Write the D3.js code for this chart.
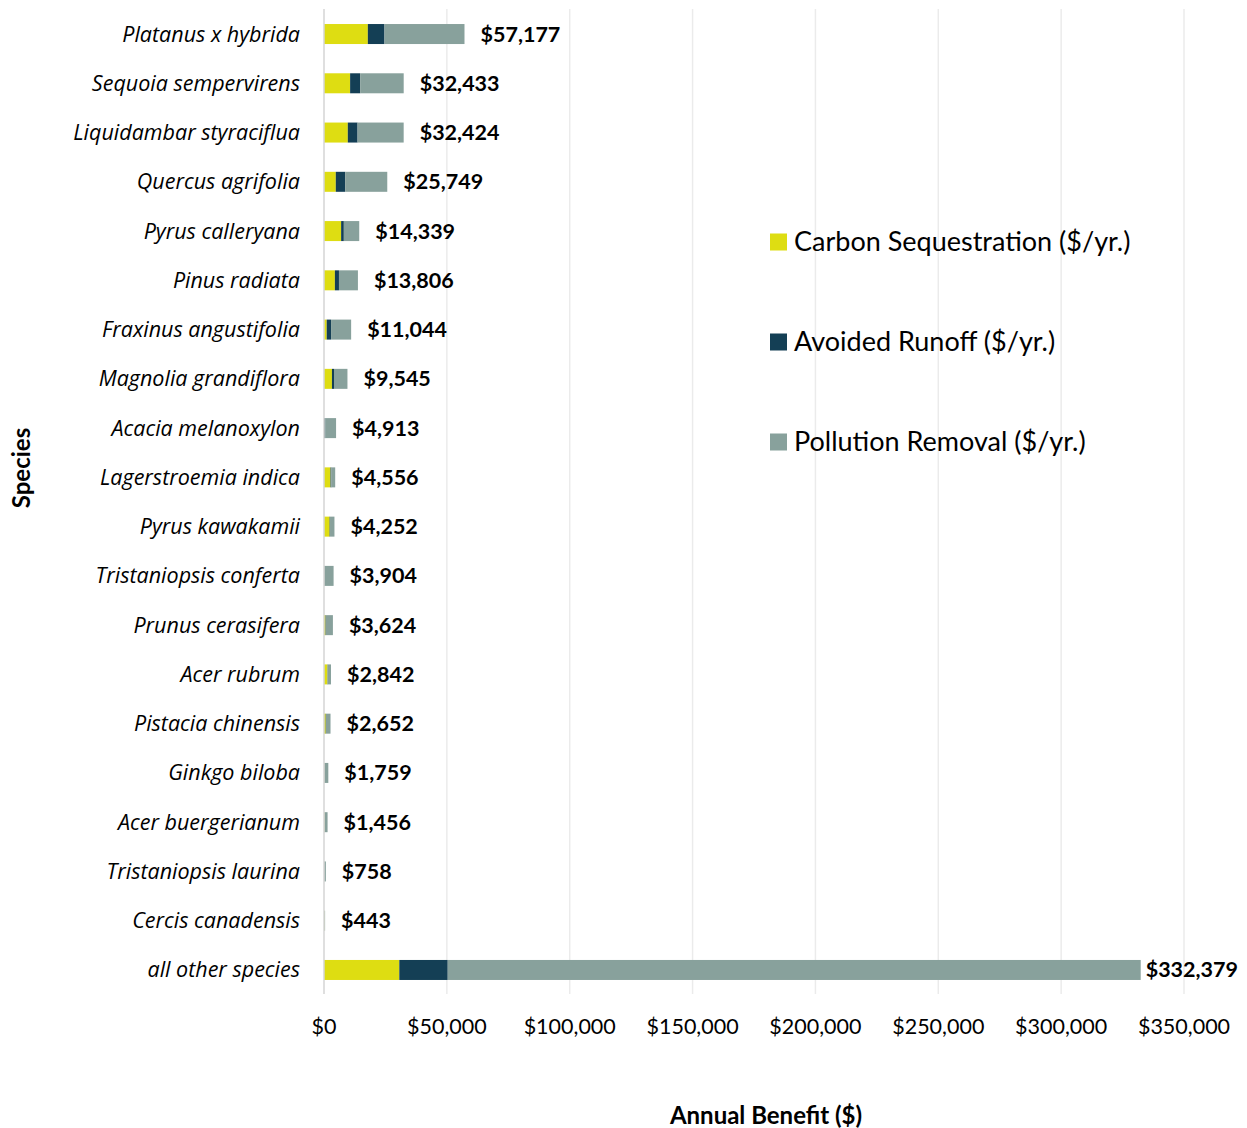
<!DOCTYPE html>
<html>
<head>
<meta charset="utf-8">
<script src="https://cdn.jsdelivr.net/npm/d3@7"></script>
<style>
  html, body { margin: 0; padding: 0; background: #ffffff; }
  svg { display: block; font-family: Lato, "Open Sans", sans-serif; }
</style>
</head>
<body>
<script>
const species = [
  "Platanus x hybrida", "Sequoia sempervirens", "Liquidambar styraciflua", "Quercus agrifolia",
  "Pyrus calleryana", "Pinus radiata", "Fraxinus angustifolia", "Magnolia grandiflora",
  "Acacia melanoxylon", "Lagerstroemia indica", "Pyrus kawakamii", "Tristaniopsis conferta",
  "Prunus cerasifera", "Acer rubrum", "Pistacia chinensis", "Ginkgo biloba",
  "Acer buergerianum", "Tristaniopsis laurina", "Cercis canadensis", "all other species"
];
const carbon =    [17842, 10630, 9690, 4800, 6970, 4430, 1100, 3230, 100, 2650, 2300, 50, 600, 1400, 700, 100, 150, 50, 150, 30650];
const runoff =    [6772, 4090, 3970, 3820, 1100, 1660, 1780, 840, 450, 350, 150, 150, 150, 100, 100, 50, 50, 20, 13, 19700];
const pollution = [32563, 17713, 18764, 17129, 6269, 7716, 8164, 5475, 4363, 1556, 1802, 3704, 2874, 1342, 1852, 1609, 1256, 688, 280, 282029];
const totals =    [57177, 32433, 32424, 25749, 14339, 13806, 11044, 9545, 4913, 4556, 4252, 3904, 3624, 2842, 2652, 1759, 1456, 758, 443, 332379];
const seriesNames = ["Carbon Sequestration ($/yr.)", "Avoided Runoff ($/yr.)", "Pollution Removal ($/yr.)"];
const seriesColors = ["#dedd12", "#143f55", "#88a19c"];
const xTicks = [0, 50000, 100000, 150000, 200000, 250000, 300000, 350000];

(function () {
const W = 1247, H = 1128;
const mLeft = 324, mRight = 1184, mTop = 9.4, mBottom = 994.6;

const svg = d3.select("body").append("svg").attr("width", W).attr("height", H);

const x = d3.scaleLinear().domain([0, 350000]).range([mLeft, mRight]);
const y = d3.scaleBand().domain(species).range([mTop, mBottom]).paddingInner(0.594).paddingOuter(0.297);

// gridlines
svg.append("g").selectAll("line").data(xTicks.slice(1)).join("line")
  .attr("x1", d => x(d)).attr("x2", d => x(d))
  .attr("y1", 9).attr("y2", 994)
  .attr("stroke", "#ebebeb").attr("stroke-width", 1.5);

// stacked bars
const rows = species.map((s, i) => ({ s, c: carbon[i], r: runoff[i], p: pollution[i] }));
const stack = d3.stack().keys(["c", "r", "p"])(rows);
svg.append("g").selectAll("g").data(stack).join("g")
  .attr("fill", (d, i) => seriesColors[i])
  .selectAll("rect").data(d => d).join("rect")
  .attr("x", d => x(d[0]))
  .attr("width", d => Math.max(0, x(d[1]) - x(d[0])))
  .attr("y", d => y(d.data.s))
  .attr("height", y.bandwidth());

// axis line
svg.append("line").attr("x1", mLeft).attr("x2", mLeft).attr("y1", 9).attr("y2", 994)
  .attr("stroke", "#d4d4d4").attr("stroke-width", 1.5);

// value labels
const vl = svg.append("g").selectAll("text").data(species).join("text")
  .attr("y", d => y(d) + y.bandwidth() / 2)
  .attr("dy", "0.35em")
  .attr("font-size", 21.5).attr("font-weight", "bold").attr("fill", "#000")
  .text((d, i) => "$" + d3.format(",")(totals[i]));
vl.each(function(d, i) {
  const w = this.getComputedTextLength();
  const xs = Math.min(x(totals[i]) + 16, W - 9 - w);
  d3.select(this).attr("x", xs);
});

// category labels
svg.append("g").selectAll("text").data(species).join("text")
  .attr("x", 300)
  .attr("y", d => y(d) + y.bandwidth() / 2)
  .attr("dy", "0.35em")
  .attr("text-anchor", "end")
  .style("font-family", "'Open Sans', Lato, sans-serif")
  .attr("font-size", 21.5).attr("font-style", "italic").attr("fill", "#000")
  .text(d => d);

// x tick labels
svg.append("g").selectAll("text").data(xTicks).join("text")
  .attr("x", d => x(d)).attr("y", 1026).attr("dy", "0.35em")
  .attr("text-anchor", "middle").attr("font-size", 21.5).attr("fill", "#000")
  .text(d => "$" + d3.format(",")(d));

// axis titles
svg.append("text").attr("x", 766).attr("y", 1116).attr("dy", "0.35em")
  .attr("text-anchor", "middle").attr("font-size", 24).attr("font-weight", "bold")
  .text("Annual Benefit ($)");
svg.append("text").attr("transform", "translate(22,468) rotate(-90)").attr("dy", "0.35em")
  .attr("text-anchor", "middle").attr("font-size", 24).attr("font-weight", "bold")
  .text("Species");

// legend
const lg = svg.append("g").selectAll("g").data(seriesNames).join("g")
  .attr("transform", (d, i) => `translate(770,${242 + i * 100})`);
lg.append("rect").attr("x", 0).attr("y", -8.5).attr("width", 17).attr("height", 17)
  .attr("fill", (d, i) => seriesColors[i]);
lg.append("text").attr("x", 24).attr("dy", "0.35em").attr("font-size", 27).attr("fill", "#000")
  .text(d => d);
})();
</script>
</body>
</html>
